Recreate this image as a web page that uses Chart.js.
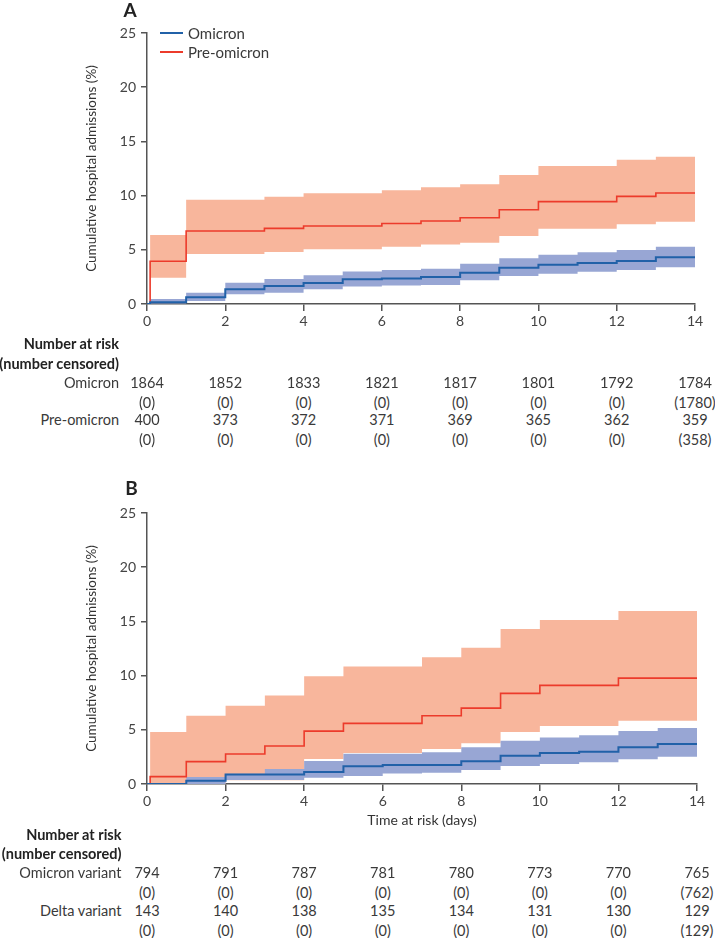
<!DOCTYPE html>
<html>
<head>
<meta charset="utf-8">
<script src="https://cdn.jsdelivr.net/npm/chart.js@4.4.0/dist/chart.umd.min.js"></script>
<style>
  body { margin: 0; background: #fff; font-family: Lato, sans-serif; color: #3a3a3a; }
  #page { position: relative; width: 715px; height: 938px; overflow: hidden; }
  canvas { position: absolute; left: 0; }
  .t { position: absolute; white-space: nowrap; font-size: 14.5px; line-height: 1; transform: translate(-50%, -50%); }
  .r { position: absolute; white-space: nowrap; font-size: 14.5px; line-height: 1; transform: translate(-100%, -50%); }
  .b { font-weight: bold; color: #222; }
  .panel { position: absolute; font-weight: bold; font-size: 19px; color: #222; transform: translate(-50%, -50%); }
  .key { position: absolute; height: 1.6px; width: 23px; }
</style>
</head>
<body>
<div id="page">
  <canvas id="chartA" width="715" height="335" style="top:0"></canvas>
  <canvas id="chartB" width="715" height="373" style="top:460px"></canvas>
</div>
<script>
// time points where the curves change (days)
const days = [0, 0.08, 1, 2, 3, 4, 5, 6, 7, 8, 9, 10, 11, 12, 13, 14];
const tickDays = [0, 2, 4, 6, 8, 10, 12, 14];
const yTicks = [0, 5, 10, 15, 20, 25];

// panel A
const aOmicron     = [0, 0.16, 0.62, 1.35, 1.66, 1.94, 2.28, 2.35, 2.49, 2.89, 3.35, 3.63, 3.78, 3.97, 4.31, 4.31];
const aOmicronLow  = [0, 0.05, 0.28, 0.89, 1.04, 1.35, 1.62, 1.70, 1.76, 2.18, 2.58, 2.80, 2.98, 3.14, 3.38, 3.38];
const aOmicronHigh = [0, 0.46, 1.04, 1.97, 2.30, 2.65, 3.00, 3.14, 3.26, 3.72, 4.21, 4.55, 4.77, 4.98, 5.29, 5.29];
const aPre     = [0, 3.94, 6.73, 6.73, 6.98, 7.20, 7.20, 7.43, 7.66, 7.96, 8.70, 9.44, 9.44, 9.93, 10.24, 10.24];
const aPreLow  = [0, 2.43, 4.61, 4.61, 4.80, 5.04, 5.04, 5.27, 5.50, 5.66, 6.27, 6.95, 6.95, 7.35, 7.59, 7.59];
const aPreHigh = [0, 6.37, 9.62, 9.62, 9.90, 10.21, 10.21, 10.50, 10.76, 11.04, 11.90, 12.73, 12.73, 13.31, 13.59, 13.59];

// panel B
const bOmicron     = [0, 0, 0.30, 0.88, 0.88, 1.10, 1.63, 1.75, 1.75, 2.09, 2.61, 2.86, 2.98, 3.38, 3.69, 3.69];
const bOmicronLow  = [0, 0, 0, 0.37, 0.37, 0.58, 0.74, 0.98, 1.04, 1.29, 1.66, 1.84, 2.00, 2.28, 2.52, 2.52];
const bOmicronHigh = [0, 0, 0.65, 0.95, 1.38, 2.12, 2.80, 2.80, 2.92, 3.38, 3.99, 4.30, 4.49, 4.88, 5.16, 5.16];
const bDelta     = [0, 0.68, 2.06, 2.77, 3.50, 4.88, 5.59, 5.59, 6.30, 7.00, 8.36, 9.10, 9.10, 9.77, 9.77, 9.77];
const bDeltaLow  = [0, 0, 0, 0.35, 0.35, 2.30, 2.85, 2.85, 3.23, 3.75, 4.79, 5.35, 5.35, 5.84, 5.84, 5.84];
const bDeltaHigh = [0, 4.80, 6.30, 7.22, 8.17, 9.95, 10.85, 10.85, 11.70, 12.56, 14.29, 15.12, 15.12, 15.95, 15.95, 15.95];

// number at risk (number censored)
const aRiskOmicron = [1864, 1852, 1833, 1821, 1817, 1801, 1792, 1784];
const aCensOmicron = [0, 0, 0, 0, 0, 0, 0, 1780];
const aRiskPre     = [400, 373, 372, 371, 369, 365, 362, 359];
const aCensPre     = [0, 0, 0, 0, 0, 0, 0, 358];
const bRiskOmicron = [794, 791, 787, 781, 780, 773, 770, 765];
const bCensOmicron = [0, 0, 0, 0, 0, 0, 0, 762];
const bRiskDelta   = [143, 140, 138, 135, 134, 131, 130, 129];
const bCensDelta   = [0, 0, 0, 0, 0, 0, 0, 129];

const blue = '#2161a8', blueBand = '#98a6d4';
const red = '#ec3b2b', redBand = '#f8b69c';
const axisCol = '#555';

Chart.defaults.font.family = 'Lato, sans-serif';

const pts = vals => days.map((d, i) => ({ x: d, y: vals[i] }));

function makeChart(id, s, cfg){
  const line = (label, vals, color, w) => ({ label, data: pts(vals), borderColor: color, borderWidth: w,
    stepped: true, pointRadius: 0, fill: false });
  const band = (vals, color, fill) => ({ data: pts(vals), borderColor: 'transparent', borderWidth: 0,
    backgroundColor: color, stepped: true, pointRadius: 0, fill });
  const tickFont = { family: 'Lato, sans-serif', size: 14 };
  return new Chart(document.getElementById(id), {
    type: 'line',
    data: { datasets: [
      line(s.names[0], s.l1, blue, 2),
      line(s.names[1], s.l2, red, 1.6),
      band(s.h1, blueBand, '+1'),
      band(s.lo1, blueBand, false),
      band(s.h2, redBand, '+1'),
      band(s.lo2, redBand, false)
    ]},
    options: {
      responsive: false, animation: false, devicePixelRatio: 1,
      layout: { padding: { top: cfg.top, left: 78, right: cfg.right, bottom: 0 } },
      plugins: { legend: { display: false }, tooltip: { enabled: false },
        filler: { drawTime: 'beforeDatasetsDraw' } },
      scales: {
        x: { type: 'linear', min: 0, max: 14,
          afterBuildTicks: sc => { sc.ticks = tickDays.map(v => ({ value: v })); },
          afterFit: sc => { sc.height = cfg.xh; },
          ticks: { color: '#444', font: tickFont, padding: 2, maxRotation: 0, autoSkip: false },
          grid: { drawOnChartArea: false, tickLength: 7, color: axisCol, lineWidth: 1.5 },
          border: { color: axisCol, width: 1.5 },
          title: { display: !!cfg.xtitle, text: cfg.xtitle || '', color: '#333',
            font: { family: 'Lato, sans-serif', size: 14 }, padding: { top: 0, bottom: 4 } } },
        y: { min: 0, max: 25,
          afterBuildTicks: sc => { sc.ticks = yTicks.map(v => ({ value: v })); },
          afterFit: sc => { sc.width = 69; },
          ticks: { color: '#444', font: tickFont, padding: 5 },
          grid: { drawOnChartArea: false, tickLength: 6, color: axisCol, lineWidth: 1.5 },
          border: { color: axisCol, width: 1.5 },
          title: { display: true, text: 'Cumulative hospital admissions (%)', color: '#333',
            font: { family: 'Lato, sans-serif', size: 13.5 }, padding: { top: 6, bottom: 0 } } }
      }
    }
  });
}

const chartA = makeChart('chartA', {
  names: ['Omicron', 'Pre-omicron'],
  l1: aOmicron, lo1: aOmicronLow, h1: aOmicronHigh,
  l2: aPre, lo2: aPreLow, h2: aPreHigh
}, { top: 33, right: 20, xh: 31 });

const chartB = makeChart('chartB', {
  names: ['Omicron variant', 'Delta variant'],
  l1: bOmicron, lo1: bOmicronLow, h1: bOmicronHigh,
  l2: bDelta, lo2: bDeltaLow, h2: bDeltaHigh
}, { top: 53, right: 18, xh: 49, xtitle: 'Time at risk (days)' });

const page = document.getElementById('page');
function text(cls, str, x, y){
  const d = document.createElement('div');
  d.className = cls; d.textContent = str;
  d.style.left = x + 'px'; d.style.top = y + 'px';
  page.appendChild(d);
}

// panel letters
text('panel', 'A', 130, 8.5);
text('panel', 'B', 131.5, 486.5);

// legend for panel A
chartA.data.datasets.slice(0, 2).forEach((ds, i) => {
  const k = document.createElement('div');
  k.className = 'key';
  k.style.left = '160px'; k.style.top = (32 + i * 19) + 'px';
  k.style.background = ds.borderColor;
  page.appendChild(k);
  const t = document.createElement('div');
  t.className = 'r'; t.textContent = ds.label;
  t.style.transform = 'translate(0,-50%)';
  t.style.left = '188px'; t.style.top = (33 + i * 19) + 'px';
  t.style.fontSize = '15px';
  page.appendChild(t);
});

// number-at-risk tables
function riskTable(chart, top, labelRight, rowsY, rows){
  const xs = tickDays.map(d => chart.scales.x.getPixelForValue(d));
  text('r b', 'Number at risk', labelRight, top + rowsY[0]);
  text('r b', '(number censored)', labelRight, top + rowsY[1]);
  rows.forEach((row, i) => {
    const yr = top + rowsY[2 + i * 2], yc = top + rowsY[3 + i * 2];
    text('r', row.name, labelRight, yr);
    row.risk.forEach((v, j) => text('t', String(v), xs[j], yr));
    row.cens.forEach((v, j) => text('t', '(' + v + ')', xs[j], yc));
  });
}

riskTable(chartA, 0, 119, [344.3, 364.3, 382.7, 402.7, 420, 440], [
  { name: 'Omicron', risk: aRiskOmicron, cens: aCensOmicron },
  { name: 'Pre-omicron', risk: aRiskPre, cens: aCensPre }
]);
riskTable(chartB, 460, 121.5, [375, 394, 413.3, 433.3, 451, 470.7], [
  { name: 'Omicron variant', risk: bRiskOmicron, cens: bCensOmicron },
  { name: 'Delta variant', risk: bRiskDelta, cens: bCensDelta }
]);
</script>
</body>
</html>
